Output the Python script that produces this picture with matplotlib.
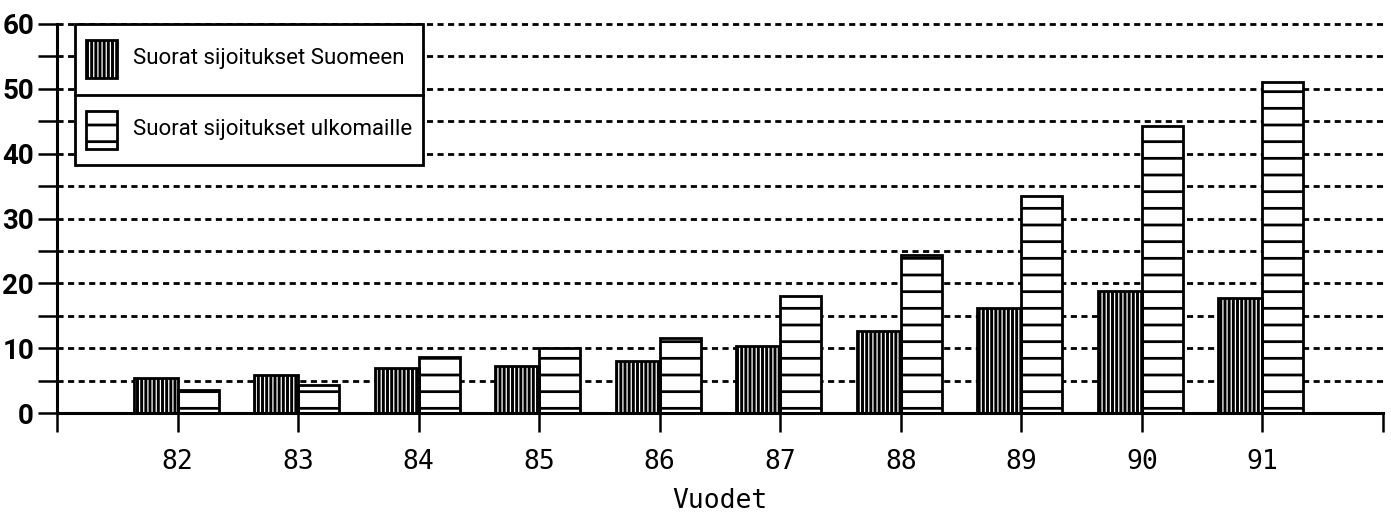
import numpy as np
import matplotlib.pyplot as plt
from matplotlib.patches import Rectangle
from matplotlib.ticker import MultipleLocator, FixedLocator

# Values (mrd mk)
years = ['82', '83', '84', '85', '86', '87', '88', '89', '90', '91']
suomeen = [5.4, 5.9, 6.9, 7.3, 8.0, 10.4, 12.7, 16.2, 18.8, 17.7]
ulkomaille = [3.5, 4.3, 8.6, 10.1, 11.6, 18.0, 24.3, 33.4, 44.2, 51.1]
legend_labels = ['Suorat sijoitukset Suomeen', 'Suorat sijoitukset ulkomaille']
xlabel = 'Vuodet'

narrow = ['Roboto', 'DejaVu Sans']
plt.rcParams['hatch.linewidth'] = 2.0

fig = plt.figure(figsize=(13.91, 5.16), dpi=100)
ax = fig.add_axes([57/1391, 103/516, 1326/1391, 389/516])

x = np.arange(len(years))
w_dark = 0.365
w_white = 0.34

# gridlines first so bars cover them
for yv in np.arange(5, 61, 5):
    ax.axhline(yv, color='black', lw=2.0, ls=(0, (2.2, 1.6)), zorder=0, clip_on=False)

# dark bars: black with white vertical lines, then black outline
dark = ax.bar(x - w_dark, suomeen, width=w_dark, align='edge', color='black',
              edgecolor='white', hatch='||||', linewidth=0, zorder=2)
for p in dark:
    if hasattr(p, 'set_hatch_linewidth'):
        p.set_hatch_linewidth(0.9)
ax.bar(x - w_dark, suomeen, width=w_dark, align='edge', fill=False, edgecolor='black',
       linewidth=2.0, zorder=3)

# white bars with horizontal stripes
ax.bar(x, ulkomaille, width=w_white, align='edge', color='white', edgecolor='black',
       hatch='-', linewidth=2.0, zorder=2)

ax.set_xlim(-1, 10)
ax.set_ylim(0, 60)

for s in ['top', 'right']:
    ax.spines[s].set_visible(False)
ax.spines['left'].set_linewidth(2.2)
ax.spines['bottom'].set_linewidth(2.2)

ax.xaxis.set_major_locator(FixedLocator(list(x) + [-1, 10]))
ax.set_xticklabels(years + ['', ''], fontfamily='DejaVu Sans Mono', fontsize=19)
ax.tick_params(axis='x', length=13.5, width=1.8, direction='out', pad=12.5)

ax.yaxis.set_major_locator(MultipleLocator(10))
ax.yaxis.set_minor_locator(MultipleLocator(5))
ax.tick_params(axis='y', which='both', length=13.5, width=1.8, direction='out', pad=3)
for lab in ax.get_yticklabels():
    lab.set_fontfamily(narrow)
    lab.set_fontweight('bold')
    lab.set_fontsize(20)

ax.set_xlabel(xlabel, fontfamily='DejaVu Sans Mono', fontsize=19, labelpad=9)

# legend: a boxed two-row panel in the upper left
lx0, lx1 = 0.0136, 0.276
ly0, lmid, ly1 = 0.6375, 0.8175, 1.0
ax.add_patch(Rectangle((lx0, ly0), lx1 - lx0, ly1 - ly0, transform=ax.transAxes,
                       facecolor='white', edgecolor='black', lw=2.0, zorder=5, clip_on=False))
ax.plot([lx0, lx1], [lmid, lmid], transform=ax.transAxes, color='black', lw=2.0, zorder=6)

sw, sh = 31/1326, 38/389
sx = (86 - 57) / 1326
rows = [(1 - (40 - 24) / 389 - sh), (1 - (111 - 24) / 389 - sh)]
leg_dark = Rectangle((sx, rows[0]), sw, sh, transform=ax.transAxes, facecolor='black',
                     edgecolor='white', hatch='||||', lw=0, zorder=6)
if hasattr(leg_dark, 'set_hatch_linewidth'):
    leg_dark.set_hatch_linewidth(0.9)
ax.add_patch(leg_dark)
ax.add_patch(Rectangle((sx, rows[0]), sw, sh, transform=ax.transAxes, fill=False,
                       edgecolor='black', lw=2.0, zorder=7))
ax.add_patch(Rectangle((sx, rows[1]), sw, sh, transform=ax.transAxes, facecolor='white',
                       edgecolor='black', hatch='-', lw=2.0, zorder=6))

tx = (133 - 57) / 1326
for r, lab in zip(rows, legend_labels):
    ax.text(tx, r + sh / 2, lab, transform=ax.transAxes, va='center', ha='left',
            fontsize=16, fontfamily=narrow, zorder=8)

fig.savefig('out.png', dpi=100)
